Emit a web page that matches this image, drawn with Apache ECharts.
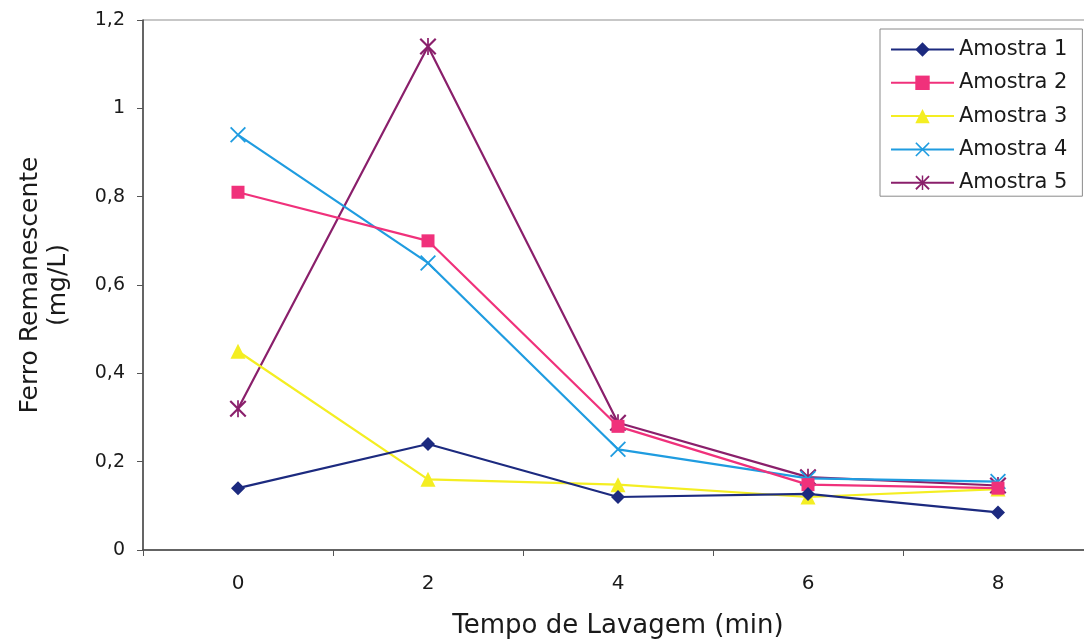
<!DOCTYPE html>
<html>
<head>
<meta charset="utf-8">
<script src="https://cdn.jsdelivr.net/npm/echarts@6/dist/echarts.min.js"></script>
<style>
  html, body { margin: 0; padding: 0; background: #ffffff; }
  #chart { width: 1084px; height: 643px; }
</style>
</head>
<body>
<div id="chart"></div>
<script>
// Washing time (min)
const categories = ['0', '2', '4', '6', '8'];

// Remaining iron (mg/L) per sample
const amostra1 = [0.14, 0.24, 0.12, 0.127, 0.085];
const amostra2 = [0.81, 0.70, 0.28, 0.148, 0.14];
const amostra3 = [0.45, 0.16, 0.148, 0.12, 0.138];
const amostra4 = [0.94, 0.65, 0.228, 0.162, 0.155];
const amostra5 = [0.32, 1.14, 0.288, 0.165, 0.146];

const seriesNames = ['Amostra 1', 'Amostra 2', 'Amostra 3', 'Amostra 4', 'Amostra 5'];
const yTicks = [0, 0.2, 0.4, 0.6, 0.8, 1, 1.2];

// Stroke-like marker shapes built as thin filled paths
const crossPath = 'path://M0,1.6 L1.6,0 L10,8.4 L18.4,0 L20,1.6 L11.6,10 L20,18.4 L18.4,20 L10,11.6 L1.6,20 L0,18.4 L8.4,10 Z';
const starPath = 'path://M0,1.8 L1.8,0 L10,8.2 L18.2,0 L20,1.8 L11.8,10 L20,18.2 L18.2,20 L10,11.8 L1.8,20 L0,18.2 L8.2,10 Z M9,0 L11,0 L11,20 L9,20 Z';

const colors = ['#1c2a7f', '#f0317b', '#f4ee22', '#1f9ce0', '#8a1f6b'];
const symbols = ['diamond', 'rect', 'triangle', crossPath, starPath];
const symbolSizes = [14, 13, 15, 16, 17];
const values = [amostra1, amostra2, amostra3, amostra4, amostra5];

const fontFamily = '"DejaVu Sans", "Liberation Sans", Arial, sans-serif';

const chart = echarts.init(document.getElementById('chart'), null, { renderer: 'canvas' });

chart.setOption({
  backgroundColor: '#ffffff',
  animation: false,
  textStyle: { fontFamily: fontFamily, color: '#1a1a1a' },
  grid: {
    left: 143, top: 20, width: 950, bottom: 93,
    outerBoundsMode: 'none',
    containLabel: false,
    show: true, borderColor: '#8f8f8f', borderWidth: 1, backgroundColor: 'transparent'
  },
  legend: {
    orient: 'vertical',
    left: 880, top: 29,
    padding: [10, 15, 3, 10],
    itemWidth: 63, itemHeight: 18, itemGap: 12.3,
    backgroundColor: '#ffffff',
    borderColor: '#8a8a8a', borderWidth: 1, borderRadius: 0,
    textStyle: { fontSize: 21, fontFamily: fontFamily, color: '#1a1a1a' },
    data: seriesNames
  },
  xAxis: {
    type: 'category',
    data: categories,
    boundaryGap: true,
    name: 'Tempo de Lavagem (min)',
    nameLocation: 'middle',
    nameGap: 63,
    nameTextStyle: { fontSize: 26, fontFamily: fontFamily, color: '#1a1a1a' },
    axisLine: { lineStyle: { color: '#444444', width: 1.5 } },
    axisTick: { show: true, inside: false, length: 6, lineStyle: { color: '#555555' } },
    axisLabel: { fontSize: 20, color: '#1a1a1a', margin: 24, fontFamily: fontFamily },
    splitLine: { show: false }
  },
  yAxis: {
    type: 'value',
    min: 0, max: 1.2, interval: 0.2,
    name: 'Ferro Remanescente\n(mg/L)',
    nameLocation: 'middle',
    nameGap: 71,
    nameRotate: 90,
    nameTextStyle: { fontSize: 25, fontFamily: fontFamily, color: '#1a1a1a', lineHeight: 28, align: 'center' },
    axisLine: { show: true, lineStyle: { color: '#444444', width: 1.5 } },
    axisTick: { show: true, inside: false, length: 6, lineStyle: { color: '#555555' } },
    axisLabel: {
      fontSize: 19, color: '#1a1a1a', margin: 18, fontFamily: fontFamily,
      formatter: function (v) {
        const t = yTicks.find(function (k) { return Math.abs(k - v) < 1e-9; });
        return String(t !== undefined ? t : v).replace('.', ',');
      }
    },
    splitLine: { show: false }
  },
  series: seriesNames.map(function (name, i) {
    return {
      name: name,
      type: 'line',
      data: values[i],
      symbol: symbols[i],
      symbolSize: symbolSizes[i],
      showAllSymbol: true,
      z: 10 - i,
      lineStyle: { color: colors[i], width: 2.2 },
      itemStyle: { color: colors[i], borderWidth: 0 },
      emphasis: { disabled: true }
    };
  })
});
</script>
</body>
</html>
